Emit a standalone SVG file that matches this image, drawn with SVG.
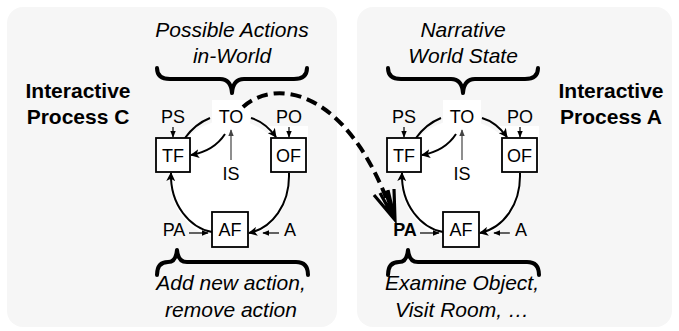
<svg xmlns="http://www.w3.org/2000/svg" width="679" height="331" viewBox="0 0 679 331">
  <defs>
    <marker id="ah" viewBox="0 0 10 10" refX="9" refY="5" markerWidth="4.5" markerHeight="4.5" orient="auto" markerUnits="strokeWidth">
      <path d="M0,0 L10,5 L0,10 L2.5,5 z" fill="#000"/>
    </marker>
    <marker id="ahs" viewBox="0 0 10 10" refX="9" refY="5" markerWidth="6" markerHeight="6" orient="auto" markerUnits="strokeWidth">
      <path d="M0,1 L10,5 L0,9 z" fill="#000"/>
    </marker>
    <marker id="ahg" viewBox="0 0 10 10" refX="9" refY="5" markerWidth="6" markerHeight="6" orient="auto" markerUnits="strokeWidth">
      <path d="M0,1 L10,5 L0,9 z" fill="#444"/>
    </marker>
    <!-- one interactive-process cycle, drawn at the left panel position -->
    <g id="cycle">
      <circle cx="230" cy="180" r="60" fill="#fff"/>
      <rect x="212" y="100" width="38" height="26" fill="#fff"/>
      <rect x="268" y="126" width="40" height="47" fill="#fff"/>
      <path class="arc" d="M185,138 Q195,124 210,118"/>
      <path class="arc" d="M251,118 Q265,122 276,137" marker-end="url(#ah)"/>
      <path class="arc" d="M289,173 C290,205 272,228 249,233" marker-end="url(#ah)"/>
      <path class="arc" d="M212,232 C190,228 170,205 171,173" marker-end="url(#ah)"/>
      <path class="arc" d="M225,134 Q214,151 191,155" marker-end="url(#ah)"/>
      <path class="thin gray" d="M231,160 L231,130" marker-end="url(#ahg)"/>
      <path class="thin" d="M173,127 L173,137" marker-end="url(#ahs)"/>
      <path class="thin" d="M289,127 L289,137" marker-end="url(#ahs)"/>
      <path class="thin" d="M189,233 L208,233" marker-end="url(#ahs)"/>
      <path class="thin" d="M279,233 L263,233" marker-end="url(#ahs)"/>
      <rect class="box" x="156" y="138" width="34" height="34"/>
      <rect class="box" x="271" y="138" width="35" height="34"/>
      <rect class="box" x="212" y="212" width="36" height="35"/>
      <text class="lbl" x="173" y="162">TF</text>
      <text class="lbl" x="288.5" y="162">OF</text>
      <text class="lbl" x="230" y="236">AF</text>
      <text class="lbl" x="231" y="123">TO</text>
      <text class="lbl" x="173" y="123">PS</text>
      <text class="lbl" x="289" y="123">PO</text>
      <text class="lbl" x="231" y="180">IS</text>
      <text class="lbl" x="290" y="236">A</text>
      <path class="brace" d="M157,68 Q157,79 170,79 L220,79 Q231,79 232,93 Q233,79 244,79 L294,79 Q307,79 307,68"/>
      <path class="brace" d="M157,275 Q157,262 168,262 Q176,262 177,250 Q178,262 187,262 L296,262 Q308,262 308,275"/>
    </g>
  </defs>
  <style>
    .panel { fill: #f6f6f6; stroke: none; }
    .arc { fill: none; stroke: #000; stroke-width: 2; }
    .thin { fill: none; stroke: #000; stroke-width: 1.2; }
    .gray { stroke: #444; }
    .box { fill: #fff; stroke: #000; stroke-width: 1.8; }
    .brace { fill: none; stroke: #000; stroke-width: 4; stroke-linejoin: round; stroke-linecap: round; }
    text { font-family: "Liberation Sans", Arial, sans-serif; fill: #000; }
    .lbl { font-size: 18px; text-anchor: middle; }
    .title { font-size: 21px; font-weight: bold; text-anchor: middle; }
    .note { font-size: 21px; font-style: italic; text-anchor: middle; }
    .dash { fill: none; stroke: #000; stroke-width: 4; stroke-dasharray: 11 6; }
  </style>

  <rect width="679" height="331" fill="#fff"/>

  <g id="process-c">
    <rect class="panel" x="7" y="7" width="330" height="320" rx="16"/>
    <use href="#cycle"/>
    <text class="lbl" x="174" y="236">PA</text>
    <text class="title" x="78" y="98">Interactive</text>
    <text class="title" x="78" y="124">Process C</text>
    <text class="note" x="232" y="37">Possible Actions</text>
    <text class="note" x="232" y="63">in-World</text>
    <text class="note" x="231" y="290">Add new action,</text>
    <text class="note" x="231" y="317">remove action</text>
  </g>

  <g id="process-a">
    <rect class="panel" x="357" y="7" width="315" height="320" rx="16"/>
    <use href="#cycle" transform="translate(231 0)"/>
    <text class="lbl" x="405" y="236" font-weight="bold">PA</text>
    <text class="title" x="611" y="98">Interactive</text>
    <text class="title" x="611" y="124">Process A</text>
    <text class="note" x="463" y="37">Narrative</text>
    <text class="note" x="463" y="63">World State</text>
    <text class="note" x="462" y="290">Examine Object,</text>
    <text class="note" x="462" y="317">Visit Room, …</text>
  </g>

  <g id="connectors">
    <path class="dash" d="M243,107 C275,78 345,88 389,205"/>
    <path d="M374,195 L395,220 L394,189 M380,193 L395,220 L388,190 M385,191 L395,220" fill="none" stroke="#000" stroke-width="3.2" stroke-linejoin="miter"/>
  </g>
</svg>
